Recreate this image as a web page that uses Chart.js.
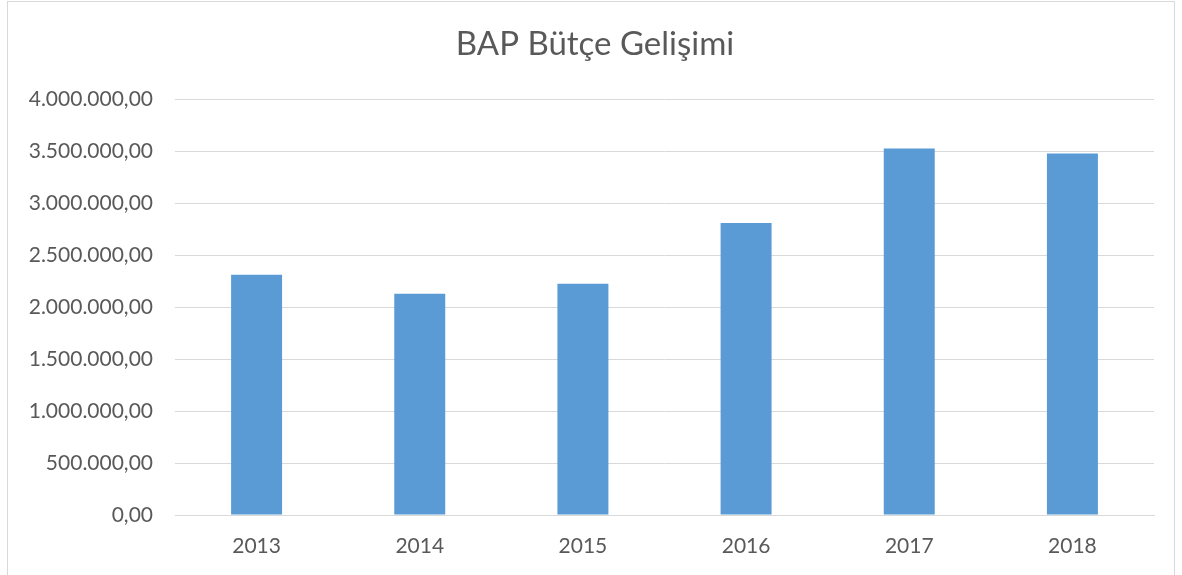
<!DOCTYPE html>
<html>
<head>
<meta charset="utf-8">
<script src="https://cdn.jsdelivr.net/npm/chart.js@4/dist/chart.umd.min.js"></script>
<style>
  html, body { margin: 0; padding: 0; background: #fff; }
  #wrap { position: relative; width: 1182px; height: 575px; }
  #frame { position: absolute; left: 7px; top: 1px; width: 1168px; height: 580px; border: 1px solid #d9d9d9; box-sizing: border-box; pointer-events: none; }
  canvas { position: absolute; left: 0; top: 0; }
</style>
</head>
<body>
<div id="wrap">
  <canvas id="c" width="1182" height="575"></canvas>
  <div id="frame"></div>
</div>
<script>
const titleText = "BAP Bütçe Gelişimi";
const categories = ["2013", "2014", "2015", "2016", "2017", "2018"];
const budgetValues = [2313000, 2130000, 2226000, 2812000, 3528000, 3480000];
const yMin = 0;
const yMax = 4000000;
const yStep = 500000;

function formatTR(v) {
  const fixed = Math.abs(v).toFixed(2);
  const parts = fixed.split(".");
  const intPart = parts[0].replace(/\B(?=(\d{3})+(?!\d))/g, ".");
  return (v < 0 ? "-" : "") + intPart + "," + parts[1];
}

const fontFamily = "Lato, 'Open Sans', 'Liberation Sans', sans-serif";
const textColor = "#595959";
const titleFontSize = 33;

// Title centred on the whole chart frame (the built-in title reserves the space)
const centredTitle = {
  id: "centredTitle",
  afterDraw(chart) {
    const tb = chart.titleBlock;
    if (!tb) return;
    const ctx = chart.ctx;
    ctx.save();
    ctx.font = "normal " + titleFontSize + "px " + fontFamily;
    ctx.fillStyle = textColor;
    ctx.textAlign = "center";
    ctx.textBaseline = "middle";
    const pad = tb.options.padding;
    const y = tb.top + pad.top + (tb.height - pad.top - pad.bottom) / 2;
    ctx.fillText(titleText, chart.width / 2 + 4, y);
    ctx.restore();
  }
};

new Chart(document.getElementById("c"), {
  type: "bar",
  data: {
    labels: categories,
    datasets: [{
      label: titleText,
      data: budgetValues,
      backgroundColor: "#5b9bd5",
      borderWidth: 0,
      barPercentage: 0.3125,
      categoryPercentage: 1.0
    }]
  },
  plugins: [centredTitle],
  options: {
    responsive: false,
    animation: false,
    layout: { padding: { left: 0, right: 28, top: 0, bottom: 0 } },
    plugins: {
      legend: { display: false },
      tooltip: { enabled: false },
      title: {
        display: true,
        text: titleText,
        color: "rgba(0,0,0,0)",
        font: { family: fontFamily, size: titleFontSize, weight: "normal" },
        padding: { top: 25, bottom: 35 }
      }
    },
    scales: {
      x: {
        grid: { display: false, drawTicks: false },
        border: { display: true, color: "#d9d9d9", width: 1 },
        ticks: { color: textColor, font: { family: fontFamily, size: 21 }, padding: 19 },
        afterFit: (s) => { s.height = 60; }
      },
      y: {
        min: yMin,
        max: yMax,
        grid: { color: "#d9d9d9", lineWidth: 1, drawTicks: false },
        border: { display: false },
        ticks: {
          stepSize: yStep,
          color: textColor,
          font: { family: fontFamily, size: 21 },
          padding: 22,
          callback: (v) => formatTR(v)
        },
        afterFit: (s) => { s.width = 175; }
      }
    }
  }
});
</script>
</body>
</html>
